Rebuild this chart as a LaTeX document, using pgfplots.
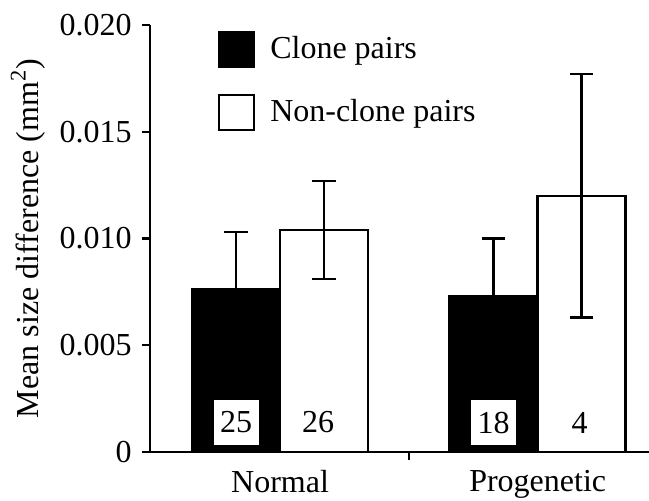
\documentclass[border=0pt]{standalone}
\usepackage{pgfplots}
\pgfplotsset{compat=1.18}
\usepackage{fontspec}
\setmainfont{Liberation Serif}
\begin{document}
\begin{tikzpicture}[font=\fontsize{16}{19}\selectfont]
\begin{axis}[
  scale only axis, width=249.5pt, height=213.5pt,
  at={(0,0)}, anchor=south west,
  xmin=-0.505, xmax=1.432, ymin=0, ymax=0.020,
  axis lines=left, axis line style={-, line width=1.2pt},
  /pgf/number format/assume math mode=true,
  scaled y ticks=false,
  ytick={0,0.005,0.010,0.015,0.020},
  yticklabels={0,0.005,0.010,0.015,0.020},
  xtick={0.5}, xticklabels={},
  extra x ticks={0,1}, extra x tick labels={Normal,Progenetic},
  extra x tick style={major tick length=0pt, tick label style={yshift=-5.8pt}},
  tick align=outside, major tick length=4pt,
  tick style={line width=1.2pt, black},
  yticklabel style={xshift=-1.7pt},
  ybar=0pt, bar width=44pt,
  ylabel={Mean size difference (mm\textsuperscript{2})},
  ylabel style={at={(axis description cs:-0.2445,0.5)}, anchor=center, rotate=0},
  legend style={draw=none, fill=none, at={(axis description cs:0.136,0.988)}, anchor=north west,
    inner sep=0pt, row sep=13pt, column sep=7.5pt, nodes={inner sep=0pt}},
  legend cell align=left,
  clip=false,
]
\addlegendimage{legend image code/.code={\draw[fill=black,line width=1pt] (0pt,-8.75pt) rectangle (17.5pt,8.75pt);}}
\addlegendentry{Clone pairs}
\addlegendimage{legend image code/.code={\draw[fill=white,line width=1pt] (0pt,-8.75pt) rectangle (17.5pt,8.75pt);}}
\addlegendentry{Non-clone pairs}

\addplot[forget plot, bar shift=-22pt, fill=black, draw=black, line width=1.3pt,
  error bars/.cd, y dir=both, y explicit,
  error bar style={line width=1.3pt, black},
  error mark options={rotate=90, line width=1.3pt, mark size=5.8pt, black}]
  coordinates {(0,0.0076) +- (0,0.0027) (1,0.0073) +- (0,0.0027)};
\addplot[forget plot, bar shift=22pt, fill=white, draw=black, line width=1.3pt,
  error bars/.cd, y dir=both, y explicit,
  error bar style={line width=1.3pt, black},
  error mark options={rotate=90, line width=1.3pt, mark size=5.8pt, black}]
  coordinates {(0,0.0104) +- (0,0.0023) (1,0.0120) +- (0,0.0057)};

\node[fill=white, minimum width=22.5pt, minimum height=22.5pt, inner sep=0pt] at ([xshift=-22pt]axis cs:0,0.00138) {25};
\node[fill=white, minimum width=22.5pt, minimum height=22.5pt, inner sep=0pt] at ([xshift=19pt]axis cs:0,0.00138) {26};
\node[fill=white, minimum width=22.5pt, minimum height=22.5pt, inner sep=0pt] at ([xshift=-22pt]axis cs:1,0.00138) {18};
\node[fill=white, minimum width=10pt, minimum height=22.5pt, inner sep=0pt] at ([xshift=21pt]axis cs:1,0.00138) {4};
\end{axis}
\pgfresetboundingbox
\path (-75pt,-24pt) rectangle (249.5pt,226pt);
\end{tikzpicture}
\end{document}
